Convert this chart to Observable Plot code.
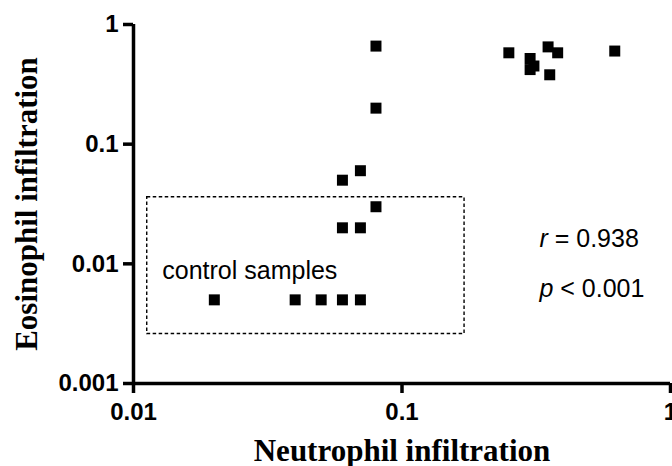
<!DOCTYPE html>
<html>
<head>
<meta charset="utf-8">
<script src="https://cdn.jsdelivr.net/npm/d3@7"></script>
<script src="https://cdn.jsdelivr.net/npm/@observablehq/plot@0.6"></script>
<style>
  html, body { margin: 0; padding: 0; background: #fff; overflow: hidden; }
  #chart svg { overflow: visible; }
</style>
</head>
<body>
<div id="chart"></div>
<script>
// Data
const neutrophil = [0.02, 0.04, 0.05, 0.06, 0.07, 0.06, 0.07, 0.08, 0.06, 0.07, 0.08, 0.08,
                    0.25, 0.30, 0.31, 0.30, 0.35, 0.38, 0.355, 0.62];
const eosinophil = [0.005, 0.005, 0.005, 0.005, 0.005, 0.02, 0.02, 0.03, 0.05, 0.06, 0.2, 0.66,
                    0.58, 0.52, 0.45, 0.42, 0.65, 0.58, 0.38, 0.60];
const xTicks = [0.01, 0.1, 1];
const yTicks = [0.001, 0.01, 0.1, 1];
const xTickLabels = ["0.01", "0.1", "1"];
const yTickLabels = ["0.001", "0.01", "0.1", "1"];
const controlBox = [{x1: 0.01125, x2: 0.171, y1: 0.00259, y2: 0.036}];
const controlLabel = "control samples";
const statLabels = ["r = 0.938", "p < 0.001"];
const xTitle = "Neutrophil infiltration";
const yTitle = "Eosinophil infiltration";

const points = neutrophil.map((x, i) => ({x, y: eosinophil[i]}));

const sans = "'Liberation Sans', Arial, Helvetica, sans-serif";
const serif = "'Liberation Serif', 'Times New Roman', serif";

const chart = Plot.plot({
  width: 672,
  height: 466,
  marginTop: 24,
  marginBottom: 83,
  marginLeft: 133,
  marginRight: 2,
  style: {fontFamily: sans, background: "white", color: "black"},
  x: {type: "log", domain: [0.01, 1]},
  y: {type: "log", domain: [0.001, 1]},
  marks: [
    Plot.rect(controlBox, {x1: "x1", x2: "x2", y1: "y1", y2: "y2", fill: "none",
      stroke: "black", strokeWidth: 1.4, strokeDasharray: "3.5,2.5"}),
    Plot.ruleX([0.01], {y1: 0.001, y2: 1, stroke: "black", strokeWidth: 3.5}),
    Plot.ruleY([0.001], {x1: 0.01, x2: 1, stroke: "black", strokeWidth: 3.5}),
    Plot.axisX({ticks: xTicks, tickFormat: (d) => xTickLabels[xTicks.indexOf(d)], tickSize: 10,
      tickPadding: 9, strokeWidth: 3.5, fontSize: 24, fontWeight: "bold", label: null}),
    Plot.axisY({ticks: yTicks, tickFormat: (d) => yTickLabels[yTicks.indexOf(d)], tickSize: 10,
      tickPadding: 5, strokeWidth: 3.5, fontSize: 24, fontWeight: "bold", label: null}),
    Plot.dot(points, {x: "x", y: "y", symbol: "square", r: 6.2, fill: "black", stroke: "none"}),
    Plot.text([controlLabel], {x: 0.0128, y: 0.0075, text: d => d, textAnchor: "start",
      lineAnchor: "bottom", fontSize: 25, fill: "black"}),
    Plot.text([statLabels[0]], {x: 0.325, y: 0.0139, text: d => d, textAnchor: "start",
      lineAnchor: "bottom", fontSize: 25, fill: "black"}),
    Plot.text([statLabels[1]], {x: 0.325, y: 0.00531, text: d => d, textAnchor: "start",
      lineAnchor: "bottom", fontSize: 25, fill: "black"}),
    Plot.text([xTitle], {frameAnchor: "bottom", dy: 77, text: d => d, lineAnchor: "bottom",
      fontSize: 31, fontWeight: "bold", fontFamily: serif, fill: "black"}),
    Plot.text([yTitle], {frameAnchor: "left", dx: -97, rotate: -90, text: d => d, lineAnchor: "bottom",
      textAnchor: "middle", fontSize: 31, fontWeight: "bold", fontFamily: serif, fill: "black"})
  ]
});

// italic statistic symbols
chart.querySelectorAll("text").forEach(t => {
  const s = t.textContent;
  if (s === statLabels[0] || s === statLabels[1]) {
    const sym = s.charAt(0), rest = s.slice(1);
    t.textContent = "";
    const a = document.createElementNS("http://www.w3.org/2000/svg", "tspan");
    a.setAttribute("font-style", "italic");
    a.textContent = sym;
    const b = document.createElementNS("http://www.w3.org/2000/svg", "tspan");
    b.textContent = rest;
    t.appendChild(a); t.appendChild(b);
  }
});

document.getElementById("chart").appendChild(chart);
</script>
</body>
</html>
